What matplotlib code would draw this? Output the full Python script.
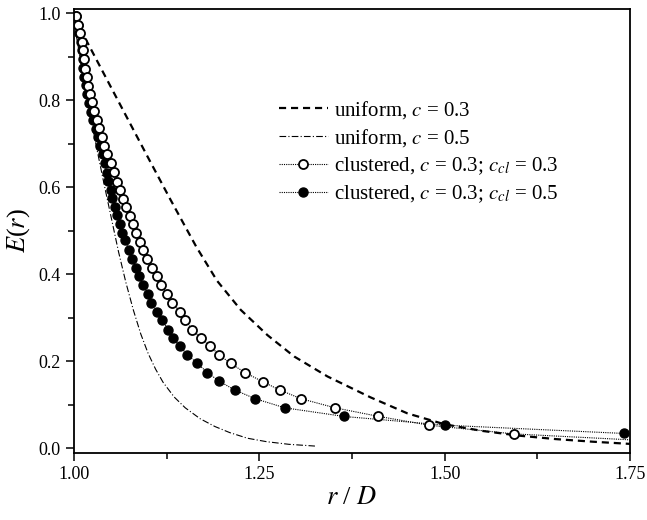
import matplotlib
matplotlib.use("Agg")
import matplotlib.pyplot as plt
from matplotlib.ticker import MultipleLocator, FormatStrFormatter

# ---- data ----
uni03_x = [1.00, 1.015, 1.04, 1.07, 1.10, 1.13, 1.165, 1.193, 1.225, 1.261, 1.297, 1.342,
           1.40, 1.45, 1.50, 1.55, 1.60, 1.65, 1.70, 1.75]
uni03_y = [0.99, 0.943, 0.862, 0.765, 0.668, 0.572, 0.463, 0.385, 0.318, 0.260, 0.211, 0.165,
           0.117, 0.080, 0.055, 0.040, 0.029, 0.021, 0.015, 0.010]

uni05_x = [1.000, 1.010, 1.020, 1.030, 1.040, 1.050, 1.060, 1.070, 1.080, 1.090, 1.100,
           1.110, 1.120, 1.135, 1.150, 1.170, 1.190, 1.210, 1.234, 1.260, 1.290, 1.325]
uni05_y = [0.98, 0.88, 0.785, 0.695, 0.612, 0.532, 0.452, 0.381, 0.318, 0.263, 0.218,
           0.182, 0.152, 0.118, 0.093, 0.068, 0.050, 0.036, 0.023, 0.015, 0.009, 0.005]

cl03_x = [1.0027, 1.0058, 1.0081, 1.0103, 1.0117, 1.0135, 1.0150, 1.0171, 1.0193, 1.0216,
          1.0243, 1.0274, 1.0306, 1.0337, 1.0373, 1.0409, 1.0450, 1.0500, 1.0545, 1.0585,
          1.0618, 1.0655, 1.0700, 1.0753, 1.0795, 1.0836, 1.0885, 1.0933, 1.0989, 1.1048,
          1.1115, 1.1178, 1.1250, 1.1322, 1.1430, 1.1497, 1.1592, 1.1709, 1.1835, 1.1956,
          1.2113, 1.2307, 1.2545, 1.2774, 1.3060, 1.352, 1.410, 1.479, 1.593, 1.80]
cl03_y = [0.994, 0.973, 0.955, 0.935, 0.916, 0.894, 0.873, 0.854, 0.834, 0.814,
          0.795, 0.775, 0.755, 0.736, 0.715, 0.695, 0.676, 0.655, 0.635, 0.613,
          0.594, 0.574, 0.554, 0.534, 0.516, 0.496, 0.475, 0.456, 0.436, 0.414,
          0.395, 0.375, 0.355, 0.335, 0.314, 0.295, 0.273, 0.254, 0.235, 0.215,
          0.195, 0.174, 0.153, 0.134, 0.114, 0.093, 0.0735, 0.053, 0.033, 0.015]

cl05_x = [1.0025, 1.0050, 1.0070, 1.0088, 1.0102, 1.0116, 1.0126, 1.0135, 1.0155, 1.0178,
          1.0205, 1.0235, 1.0262, 1.0295, 1.0320, 1.0351, 1.0385, 1.0413, 1.0441, 1.0463,
          1.0495, 1.0517, 1.0549, 1.0585, 1.0621, 1.0652, 1.0688, 1.0742, 1.0787, 1.0832,
          1.0877, 1.0931, 1.0998, 1.1043, 1.1124, 1.1192, 1.1268, 1.1340, 1.1430, 1.1529,
          1.1664, 1.1799, 1.1960, 1.2167, 1.2442, 1.2842, 1.3647, 1.501, 1.742]
cl05_y = [0.994, 0.973, 0.955, 0.935, 0.916, 0.894, 0.874, 0.854, 0.835, 0.814,
          0.793, 0.774, 0.755, 0.733, 0.715, 0.695, 0.677, 0.655, 0.634, 0.615,
          0.594, 0.575, 0.555, 0.536, 0.516, 0.496, 0.478, 0.456, 0.435, 0.414,
          0.395, 0.375, 0.355, 0.335, 0.314, 0.295, 0.273, 0.254, 0.234, 0.215,
          0.195, 0.174, 0.154, 0.134, 0.114, 0.093, 0.073, 0.053, 0.034]

labels = ["uniform, $c$ = 0.3", "uniform, $c$ = 0.5",
          "clustered, $c$ = 0.3; $c_{cl}$ = 0.3", "clustered, $c$ = 0.3; $c_{cl}$ = 0.5"]
xticks = [1.00, 1.25, 1.50, 1.75]
yticks = [0.0, 0.2, 0.4, 0.6, 0.8, 1.0]

# ---- style ----
plt.rcParams['font.family'] = ['Liberation Serif', 'DejaVu Serif']
plt.rcParams['mathtext.fontset'] = 'stix'

fig = plt.figure(figsize=(6.47, 5.20), dpi=100)
ax = fig.add_axes([0.1144, 0.1288, 0.8593, 0.8539])

l1, = ax.plot(uni03_x, uni03_y, color='black', lw=1.6, ls=(0, (3.2, 2.2)))
l2, = ax.plot(uni05_x, uni05_y, color='black', lw=0.8, ls=(0, (6, 2, 1, 2)))
l4, = ax.plot(cl05_x, cl05_y, color='black', lw=0.8, ls=(0, (1, 1)),
              marker='o', ms=6.5, mfc='black', mec='black', mew=1.0)
l3, = ax.plot(cl03_x, cl03_y, color='black', lw=0.8, ls=(0, (1, 1)),
              marker='o', ms=6.5, mfc='white', mec='black', mew=1.3)

ax.set_xlim(1.0, 1.75)
ax.set_ylim(-0.011, 1.01)
ax.set_xticks(xticks)
ax.set_yticks(yticks)
ax.xaxis.set_major_formatter(FormatStrFormatter('%.2f'))
ax.yaxis.set_major_formatter(FormatStrFormatter('%.1f'))
ax.xaxis.set_minor_locator(MultipleLocator(0.125))
ax.yaxis.set_minor_locator(MultipleLocator(0.1))
ax.tick_params(which='both', direction='out', width=1.1, labelsize=13, top=False, right=False)
ax.tick_params(which='major', length=6)
ax.tick_params(which='minor', length=4)
for s in ax.spines.values():
    s.set_linewidth(1.3)

ax.set_xlabel("$r$ / $D$", fontsize=19, labelpad=3)
ax.set_ylabel("$E$($r$)", fontsize=19, labelpad=5)

leg = ax.legend([l1, l2, l3, l4], labels, loc='upper left', bbox_to_anchor=(0.368, 0.797),
                frameon=False, fontsize=15, handlelength=2.35, handletextpad=0.3,
                labelspacing=0.3, borderaxespad=0, borderpad=0)

fig.savefig("out.png", dpi=100)
